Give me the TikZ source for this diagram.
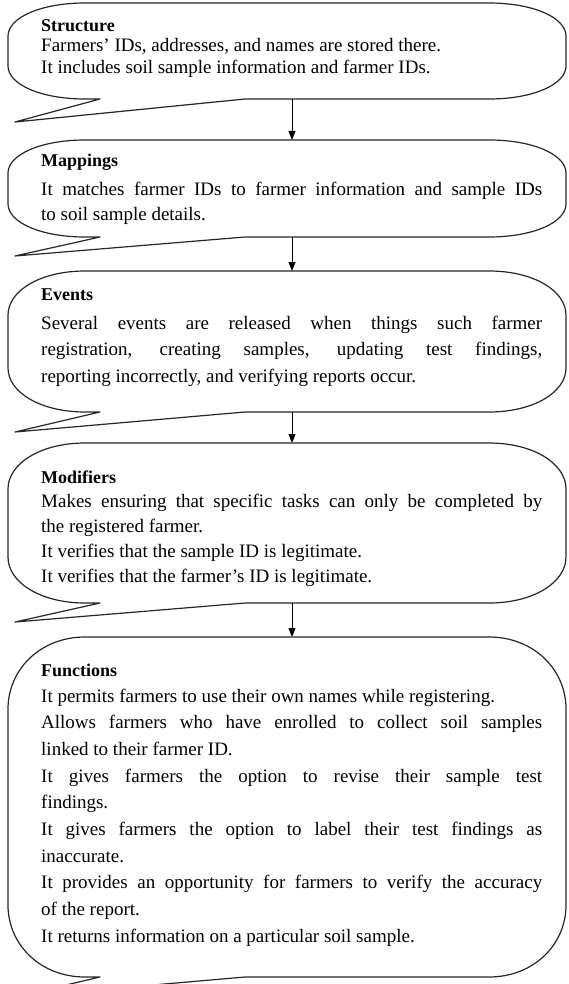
\documentclass[tikz,border=0pt]{standalone}
\usepackage{fontspec}
\setmainfont{Liberation Serif}
\usetikzlibrary{arrows.meta}
\newcommand\bubblepath[4]{% top, bottom, corner ry, tail tip y
  \pgfmathsetmacro\ctT{#1}\pgfmathsetmacro\ctB{#2}\pgfmathsetmacro\ctR{#3}%
  \pgfmathsetmacro\ctA{\ctT+0.448*\ctR}\pgfmathsetmacro\ctAA{\ctT+\ctR}%
  \pgfmathsetmacro\ctC{\ctB-0.448*\ctR}\pgfmathsetmacro\ctCC{\ctB-\ctR}%
  \draw[bubble] (85,\ctT) -- (489,\ctT)
    .. controls (533.5,\ctT) and (566,\ctA) .. (566,\ctAA) -- (566,\ctCC)
    .. controls (566,\ctC) and (533.5,\ctB) .. (489,\ctB) -- (245,\ctB)
    -- (15,#4) -- (100,\ctB) -- (85,\ctB)
    .. controls (40.5,\ctB) and (8,\ctC) .. (8,\ctCC) -- (8,\ctAA)
    .. controls (8,\ctA) and (40.5,\ctT) .. (85,\ctT) -- cycle;
}
\newcommand\bodytext[2]{\parbox[t]{501pt}{\fontsize{19}{#1}\selectfont #2}}
\begin{document}
\begin{tikzpicture}[x=1pt,y=-1pt,
  bubble/.style={draw=black!85, line width=1.2pt, line join=round},
  conn/.style={draw=black, line width=1pt, -{Triangle[length=9pt,width=7pt]}},
  head/.style={anchor=base west, inner sep=0pt, font=\fontsize{18}{20}\selectfont\bfseries},
  body/.style={anchor=base west, inner sep=0pt}
]
\useasboundingbox (0,0) rectangle (568,984);
\begin{scope}
\clip (0,0) rectangle (568,984);
\bubblepath{3}{99}{33}{122}
\bubblepath{140}{237}{33}{256}
\bubblepath{271}{412}{44}{432}
\bubblepath{443}{603}{46}{622}
\bubblepath{637}{977}{72}{997}
\end{scope}

% connectors
\coordinate (s1) at (292,99);  \coordinate (n2) at (292,140);
\coordinate (s2) at (292,237); \coordinate (n3) at (292,271);
\coordinate (s3) at (292,412); \coordinate (n4) at (292,443);
\coordinate (s4) at (292,603); \coordinate (n5) at (292,637);
\draw[conn] (s1) -- (n2);
\draw[conn] (s2) -- (n3);
\draw[conn] (s3) -- (n4);
\draw[conn] (s4) -- (n5);

% texts
\node[head] (h1) at (41,32) {Structure};
\node[body] (t1) at (41,52) {\bodytext{21.5}{Farmers' IDs, addresses, and names are stored there.\\
It includes soil sample information and farmer IDs.}};

\node[head] (h2) at (41,167) {Mappings};
\node[body] (t2) at (41,196) {\bodytext{24.5}{It matches farmer IDs to farmer information and sample IDs\linebreak
to soil sample details.}};

\node[head] (h3) at (41,300) {Events};
\node[body] (t3) at (41,329) {\bodytext{26.5}{Several events are released when things such farmer\linebreak
registration, creating samples, updating test findings,\linebreak
reporting incorrectly, and verifying reports occur.}};

\node[head] (h4) at (41,483) {Modifiers};
\node[body] (t4) at (41,507) {\bodytext{25}{Makes ensuring that specific tasks can only be completed by\linebreak
the registered farmer.\\
It verifies that the sample ID is legitimate.\\
It verifies that the farmer's ID is legitimate.}};

\node[head] (h5) at (41,676) {Functions};
\node[body] (t5) at (41,702) {\bodytext{26.67}{It permits farmers to use their own names while registering.\\
Allows farmers who have enrolled to collect soil samples\linebreak
linked to their farmer ID.\\
It gives farmers the option to revise their sample test\linebreak
findings.\\
It gives farmers the option to label their test findings as\linebreak
inaccurate.\\
It provides an opportunity for farmers to verify the accuracy\linebreak
of the report.\\
It returns information on a particular soil sample.}};
\end{tikzpicture}
\end{document}
